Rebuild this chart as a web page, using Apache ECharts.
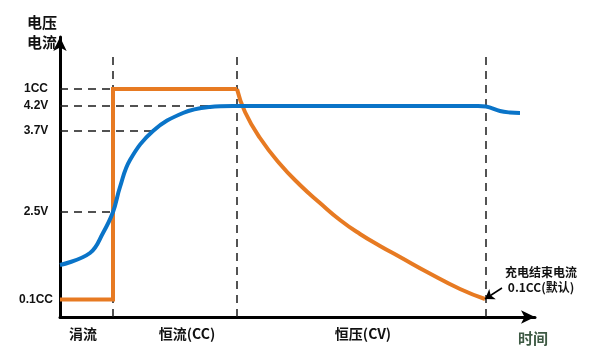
<!DOCTYPE html>
<html><head><meta charset="utf-8">
<script src="https://cdn.jsdelivr.net/npm/echarts@6/dist/echarts.min.js"></script>
<style>html,body{margin:0;padding:0;background:#fff}#c{width:600px;height:358px}</style>
</head><body><div id="c"></div>
<script>
// y tick positions (chart units) and labels
const yTickValues = [17.5, 105, 186, 211, 228];
const yTickLabels = ['0.1CC', '2.5V', '3.7V', '4.2V', '1CC'];
// x phase labels
const phaseX = [23, 127, 303, 473];
const phaseLabels = ['涓流', '恒流(CC)', '恒压(CV)', '时间'];
// phase boundaries (vertical dashed guides)
const boundaryX = [53, 177, 426];
const guideTop = 265;
// horizontal dashed guides: level and where they end
const hGuideValues = [228, 211, 186, 105];
const hGuideEnds = [53, 173, 93, 53];
// orange current: step part
const curStepX = [0, 53, 53, 177];
const curStepY = [17.5, 17.5, 228, 228];
// orange current: CV decay
const curDecayX = [177, 185, 200, 220, 240, 260, 280, 300, 320, 340, 367, 400, 425];
const curDecayY = [228, 205, 179, 153, 132, 114, 97, 83, 71, 60, 45, 28, 18];
// blue voltage
const voltX = [0, 30, 43, 53, 60, 70, 93, 123, 150, 173, 250, 350, 418, 426, 440, 450, 460];
const voltY = [52, 64, 84, 105, 130, 157, 186, 204, 210, 211, 211, 211, 211, 210.5, 206, 204.5, 204];
// annotation
const endPoint = [425, 18];
const arrowStart = [442, 29];
const endText = '充电结束电流\n0.1CC(默认)';

const ORANGE = '#E77A22', BLUE = '#0A74C8';
const zip = (a, b) => a.map((v, i) => [v, b[i]]);
const dash = { color: '#1a1a1a', width: 1.5, type: [8, 6] };

const series = [];
hGuideValues.forEach((v, i) => series.push({
  type: 'line', data: [[0, v], [hGuideEnds[i], v]], symbol: 'none',
  lineStyle: dash, silent: true, z: 1
}));
boundaryX.forEach(x => series.push({
  type: 'line', data: [[x, 0], [x, guideTop]], symbol: 'none',
  lineStyle: dash, silent: true, z: 1
}));
series.push({
  type: 'line', data: zip(curStepX, curStepY), symbol: 'none',
  lineStyle: { color: ORANGE, width: 4, cap: 'butt', join: 'miter' }, z: 3
});
series.push({
  type: 'line', data: zip(curDecayX, curDecayY), symbol: 'none', smooth: 0.5,
  lineStyle: { color: ORANGE, width: 4 }, z: 3,
  markLine: {
    silent: true, symbol: ['none', 'arrow'], symbolSize: 9, animation: false,
    lineStyle: { color: '#000', width: 1.5, type: 'solid' }, label: { show: false },
    data: [[{ coord: arrowStart }, { coord: endPoint }]]
  },
  markPoint: {
    symbol: 'circle', symbolSize: 0, animation: false,
    data: [{ coord: endPoint }],
    label: {
      show: true, formatter: endText, offset: [56, -19], color: '#111',
      fontSize: 12, fontWeight: 'bold', lineHeight: 15, align: 'center', verticalAlign: 'middle',
      fontFamily: 'Noto Sans CJK SC'
    }
  }
});
series.push({
  type: 'line', data: zip(voltX, voltY), symbol: 'none', smooth: 0.4,
  lineStyle: { color: BLUE, width: 4 }, z: 4
});

const chart = echarts.init(document.getElementById('c'), null, { renderer: 'canvas' });
chart.setOption({
  animation: false,
  backgroundColor: '#fff',
  textStyle: { fontFamily: 'Noto Sans CJK SC' },
  title: {
    text: '电压\n电流', left: 22, top: 7,
    textStyle: { fontSize: 15, fontWeight: 'bold', lineHeight: 20, color: '#111', fontFamily: 'Noto Sans CJK SC' }
  },
  grid: { left: 60, right: 65, top: 37, bottom: 41, containLabel: false },
  xAxis: {
    type: 'value', min: 0, max: 475,
    axisLine: { show: true, symbol: ['none', 'arrow'], symbolSize: [10, 14], lineStyle: { color: '#000', width: 3 } },
    axisTick: { show: false }, splitLine: { show: false },
    axisLabel: {
      customValues: phaseX, margin: 10,
      formatter: v => { const i = phaseX.indexOf(v); return i === 3 ? '{t|' + phaseLabels[i] + '}' : '{p|' + phaseLabels[i] + '}'; },
      rich: {
        p: { fontSize: 14, fontWeight: 'bold', color: '#111', fontFamily: 'Noto Sans CJK SC' },
        t: { fontSize: 15, fontWeight: 'bold', color: '#3e5a44', fontFamily: 'Noto Sans CJK SC', padding: [4, 0, 0, 0] }
      }
    }
  },
  yAxis: {
    type: 'value', min: 0, max: 280,
    axisLine: { show: true, symbol: ['none', 'arrow'], symbolSize: [10, 14], lineStyle: { color: '#000', width: 3 } },
    axisTick: { show: false }, splitLine: { show: false },
    axisLabel: {
      customValues: yTickValues, margin: 24, align: 'center',
      formatter: v => yTickLabels[yTickValues.indexOf(v)],
      fontSize: 12, fontWeight: 'bold', color: '#111', fontFamily: 'Liberation Sans'
    }
  },
  series
});
</script></body></html>
